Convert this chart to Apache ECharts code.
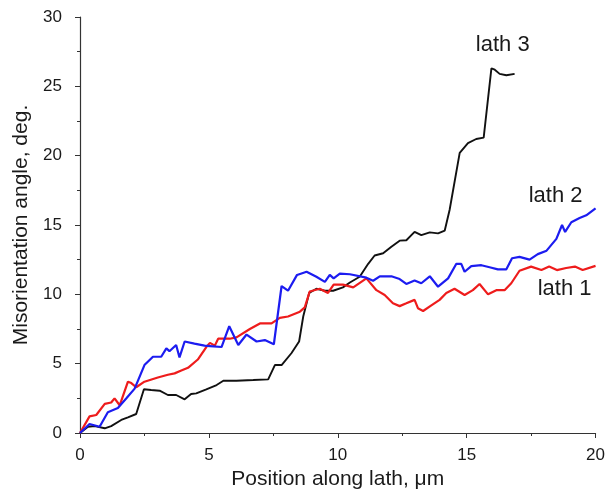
<!DOCTYPE html>
<html>
<head>
<meta charset="utf-8">
<script src="https://cdn.jsdelivr.net/npm/echarts@6/dist/echarts.min.js"></script>
<style>html,body{margin:0;padding:0;background:#fff}#c{width:608px;height:497px}</style>
</head>
<body>
<div id="c"></div>
<script>
const xTicks = [0, 5, 10, 15, 20];
const yTicks = [0, 5, 10, 15, 20, 25, 30];

const lath1 = [[0,0],[0.37,1.2],[0.63,1.3],[0.96,2.1],[1.21,2.2],[1.34,2.5],[1.54,2.0],[1.86,3.7],[1.99,3.6],[2.18,3.3],[2.5,3.7],[3.02,4.0],[3.41,4.2],[3.67,4.3],[3.93,4.5],[4.19,4.7],[4.57,5.3],[4.9,6.2],[5.04,6.5],[5.23,6.3],[5.36,6.8],[5.81,6.8],[6.07,6.9],[6.59,7.5],[6.98,7.9],[7.43,7.9],[7.75,8.3],[8.07,8.4],[8.53,8.75],[8.72,9.06],[8.91,10.2],[9.3,10.4],[9.62,10.1],[9.84,10.7],[10.2,10.7],[10.6,10.5],[11.11,11.15],[11.5,10.3],[11.82,9.95],[12.14,9.35],[12.4,9.15],[12.66,9.35],[12.98,9.6],[13.11,9.0],[13.31,8.8],[13.63,9.2],[13.95,9.6],[14.21,10.1],[14.53,10.4],[14.92,9.95],[15.24,10.3],[15.5,10.75],[15.83,10.0],[16.15,10.3],[16.47,10.3],[16.73,10.8],[17.05,11.7],[17.5,12.0],[17.9,11.75],[18.2,12.0],[18.5,11.75],[18.86,11.9],[19.2,12.0],[19.5,11.75],[20,12.05]];

const lath2 = [[0,0],[0.37,0.65],[0.76,0.45],[1.08,1.5],[1.47,1.8],[1.8,2.5],[2.12,3.2],[2.5,4.9],[2.83,5.5],[3.15,5.5],[3.35,6.1],[3.47,5.9],[3.73,6.35],[3.86,5.45],[4.06,6.6],[4.44,6.45],[4.83,6.3],[5.04,6.27],[5.49,6.2],[5.79,7.7],[6.14,6.35],[6.46,7.1],[6.85,6.6],[7.17,6.7],[7.52,6.4],[7.82,10.6],[8.07,10.26],[8.42,11.4],[8.79,11.63],[9.17,11.27],[9.5,10.9],[9.69,11.4],[9.84,11.15],[10.08,11.5],[10.47,11.45],[11.11,11.2],[11.37,10.98],[11.63,11.3],[12.08,11.3],[12.4,11.1],[12.66,10.75],[12.98,11.0],[13.24,10.8],[13.57,11.3],[13.89,10.55],[14.28,11.15],[14.6,12.2],[14.79,12.2],[14.92,11.63],[15.18,12.04],[15.57,12.1],[15.89,11.95],[16.21,11.8],[16.54,11.8],[16.76,12.6],[17.05,12.7],[17.44,12.5],[17.76,12.9],[18.1,13.15],[18.48,14.0],[18.7,15.0],[18.82,14.5],[19.06,15.2],[19.38,15.5],[19.64,15.7],[20,16.2]];

const lath3 = [[0,0],[0.31,0.45],[0.57,0.5],[0.96,0.34],[1.21,0.5],[1.6,0.94],[1.86,1.13],[2.18,1.37],[2.48,3.15],[2.76,3.1],[3.09,3.05],[3.41,2.74],[3.73,2.74],[4.06,2.43],[4.31,2.81],[4.51,2.86],[4.9,3.15],[5.3,3.46],[5.56,3.77],[6.07,3.77],[6.72,3.82],[7.3,3.87],[7.56,4.9],[7.82,4.9],[8.2,5.75],[8.5,6.6],[8.66,8.4],[8.89,10.1],[9.17,10.4],[9.5,10.26],[9.82,10.26],[10.2,10.5],[10.47,10.85],[10.85,11.27],[11.18,12.2],[11.43,12.8],[11.76,12.96],[12.08,13.43],[12.4,13.87],[12.66,13.9],[12.98,14.5],[13.24,14.27],[13.57,14.47],[13.89,14.4],[14.15,14.6],[14.34,16.1],[14.73,20.2],[15.05,20.9],[15.37,21.2],[15.66,21.3],[15.96,26.3],[16.09,26.2],[16.28,25.9],[16.54,25.8],[16.86,25.9]];

const labels = [
  {name: 'lath 1', coord: [18.8, 10.38]},
  {name: 'lath 2', coord: [18.45, 17.09]},
  {name: 'lath 3', coord: [16.4, 27.97]}
];

const font = 'Liberation Sans, Arial, sans-serif';

function labelPoint(i) {
  return {
    symbol: 'rect',
    symbolSize: 1,
    silent: true,
    itemStyle: {color: 'rgba(0,0,0,0)'},
    label: {show: true, position: 'inside', formatter: labels[i].name, fontSize: 22, color: '#1a1a1a', fontFamily: font},
    data: [{coord: labels[i].coord, value: labels[i].name}]
  };
}

const chart = echarts.init(document.getElementById('c'));
chart.setOption({
  animation: false,
  backgroundColor: '#fff',
  grid: {left: 80, right: 12, top: 17, bottom: 64},
  xAxis: {
    type: 'value', min: xTicks[0], max: xTicks[xTicks.length - 1], interval: 5,
    name: 'Position along lath, μm', nameLocation: 'middle', nameGap: 35,
    nameTextStyle: {fontSize: 21, color: '#1a1a1a', fontFamily: font},
    axisLine: {lineStyle: {color: '#333', width: 1.2}},
    axisTick: {show: true, length: 5, lineStyle: {color: '#333'}},
    minorTick: {show: true, splitNumber: 2, length: 3, lineStyle: {color: '#333'}},
    splitLine: {show: false},
    axisLabel: {fontSize: 17, color: '#1a1a1a', fontFamily: font, margin: 14}
  },
  yAxis: {
    type: 'value', min: yTicks[0], max: yTicks[yTicks.length - 1], interval: 5,
    name: 'Misorientation angle, deg.', nameLocation: 'middle', nameGap: 40,
    nameTextStyle: {fontSize: 21, color: '#1a1a1a', fontFamily: font},
    axisLine: {show: true, lineStyle: {color: '#333', width: 1.2}},
    axisTick: {show: true, length: 5, lineStyle: {color: '#333'}},
    minorTick: {show: true, splitNumber: 2, length: 3, lineStyle: {color: '#333'}},
    splitLine: {show: false},
    axisLabel: {fontSize: 17, color: '#1a1a1a', fontFamily: font, margin: 18}
  },
  series: [
    {name: 'lath 1', type: 'line', data: lath1, showSymbol: false, lineStyle: {color: '#ee1c1c', width: 2.2}, z: 3, markPoint: labelPoint(0)},
    {name: 'lath 2', type: 'line', data: lath2, showSymbol: false, lineStyle: {color: '#1c1cf0', width: 2.2}, z: 4, markPoint: labelPoint(1)},
    {name: 'lath 3', type: 'line', data: lath3, showSymbol: false, lineStyle: {color: '#111', width: 1.9}, z: 2, markPoint: labelPoint(2)}
  ]
});
</script>
</body>
</html>
